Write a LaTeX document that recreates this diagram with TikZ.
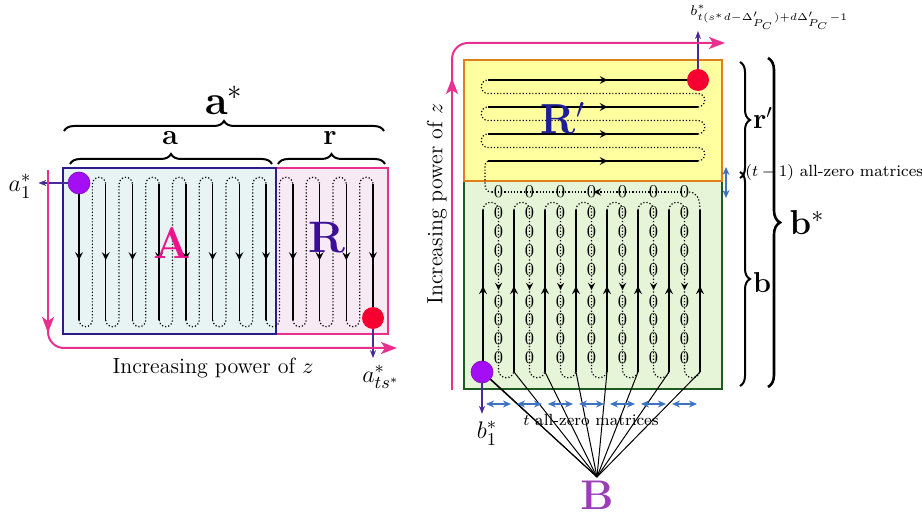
\documentclass[tikz,border=0pt]{standalone}
\usepackage{amsmath,amssymb}
\usepackage{tikz}
\usetikzlibrary{arrows,arrows.meta,positioning,calc,decorations.pathreplacing,decorations.markings}
\definecolor{tikzpink}{RGB}{232, 48, 143}
\definecolor{tikzmagenta}{RGB}{236, 18, 140}
\definecolor{tikzindigo}{RGB}{46, 26, 138}
\definecolor{tikzviolet}{RGB}{58, 14, 150}
\definecolor{tikznavy}{RGB}{30, 30, 150}
\definecolor{tikzpurple}{RGB}{163, 14, 245}
\definecolor{tikzplum}{RGB}{155, 61, 184}
\definecolor{tikzred}{RGB}{245, 0, 48}
\definecolor{tikzorange}{RGB}{224, 128, 28}
\definecolor{tikzgreen}{RGB}{31, 90, 32}
\definecolor{tikzblue}{RGB}{60, 116, 194}
\definecolor{tikzlabel}{RGB}{74, 42, 154}
\definecolor{afill}{RGB}{232, 244, 244}
\definecolor{rfill}{RGB}{247, 234, 244}
\definecolor{yfill}{RGB}{255, 255, 160}
\definecolor{gfill}{RGB}{230, 244, 216}

\begin{document}
\begin{tikzpicture}[
        x=0.5pt, y=-0.5pt,
        blockA/.style={draw=tikzindigo, fill=afill, line width=1pt},
        blockR/.style={draw=tikzpink, fill=rfill, line width=1pt},
        blockY/.style={draw=tikzorange, fill=yfill, line width=1.2pt},
        blockG/.style={draw=tikzgreen, fill=gfill, line width=1pt},
        ball/.style={circle, inner sep=0pt, minimum size=11pt},
        solidpath/.style={line width=0.75pt},
        dotpath/.style={densely dotted, line width=0.6pt},
        midarr/.style={postaction={decorate}, decoration={markings, mark=at position #1 with {\arrow{stealth}}}},
        midarr/.default=0.5,
        axis/.style={draw=tikzpink, line width=1pt, -{Stealth[length=8pt, width=6pt, inset=2pt]}},
        lblarr/.style={draw=tikzlabel, line width=0.6pt, -{Stealth[length=4pt, width=3pt]}},
        gap/.style={draw=tikzblue, line width=0.7pt, {Stealth[length=4pt, width=3.5pt]}-{Stealth[length=4pt, width=3.5pt]}},
        brace/.style={decorate, decoration={brace, amplitude=#1}, line width=1pt},
        zero/.style={inner sep=0pt, font=\fontsize{9}{10}\selectfont},
        big/.style={font=\fontsize{22}{26}\selectfont\bfseries},
        star/.style={font=\fontsize{13}{15}\selectfont},
        small/.style={font=\fontsize{8.1}{10}\selectfont}
    ]
        \useasboundingbox (0,0) rectangle (922,518);

        % Left: a* split into A and R
        \filldraw[blockR] (276,168) rectangle (388,334);
        \filldraw[blockA] (63,168) rectangle (276,334);

        \foreach \i in {0,...,11}
            \draw[solidpath, midarr=0.56] (79+\i*26.73,184) -- (79+\i*26.73,320);
        \foreach \i in {0,...,10}
            \draw[dotpath] (79+\i*26.73,320) arc[start angle=180, end angle=0, radius=6.68]
                -- ++(0,-136) arc[start angle=180, end angle=360, radius=6.68];

        \node[big, text=tikzmagenta] (labA) at (172,243) {A};
        \node[big, text=tikzviolet] (labR) at (327,238) {R};

        \node[ball, fill=tikzpurple, draw=tikzpurple!75!black, line width=0.3pt] (a1) at (79,183) {};
        \node[ball, fill=tikzred] (ats) at (373,318) {};
        \node[star] (a1lbl) at (20,186) {$a_1^*$};
        \node[star] (atslbl) at (381,377) {$a_{ts^*}^*$};
        \draw[lblarr] (a1) -- (a1 -| a1lbl.east);
        \draw[lblarr] (ats) -- (ats |- atslbl.north);

        % Braces
        \draw[brace=5pt] (64,131) -- (384,131);
        \draw[brace=5pt] (70,164) -- (272,164);
        \draw[brace=5pt] (278,164) -- (385,164);
        \node[font=\huge] (astar) at (224,100) {$\mathbf{a}^*$};
        \node[font=\Large] (alab) at (170,138) {$\mathbf{a}$};
        \node[font=\Large] (rlab) at (330,138) {$\mathbf{r}$};

        % Axis
        \draw[axis] (48,170) -- (48,333);
        \draw[axis, rounded corners=8pt] (48,330) |- (397,348);
        \node[font=\fontsize{11}{13}\selectfont] (incL) at (213,368) {Increasing power of $z$};

        % Right: b* split into R' and b
        \filldraw[blockG] (464,181) rectangle (722,389);
        \filldraw[blockY] (464,60) rectangle (722,181);

        \foreach \k in {0,...,3}
            \draw[solidpath, midarr=0.57] (488,80+\k*27) -- (698,80+\k*27);
        \foreach \k in {1,...,3}
            \draw[dotpath] (698,80+\k*27) arc[start angle=90, end angle=-90, radius=6.75]
                -- ++(-210,0) arc[start angle=90, end angle=270, radius=6.75];
        \node[big, text=tikznavy, font=\fontsize{21}{25}\selectfont\bfseries] (labRp) at (563,118) {R$'$};

        % zero row
        \draw[dotpath] (700,210) .. controls (700,197) and (696,192) .. (688,192);
        \draw[dotpath, midarr=0.48] (688,192) -- (492,192);
        \draw[dotpath] (492,192) .. controls (487,192) and (485,190) .. (485,184)
            -- (485,168) .. controls (485,163) and (486,161) .. (488,161);
        \foreach \j in {0,...,6}
            \node[zero] (zr\j) at (498.5+\j*31,192) {0};

        % columns
        \coordinate (b1c) at (482,372);
        \foreach \j in {0,...,7}
            \draw[solidpath, midarr=0.53] (483+\j*31,372) -- (483+\j*31,210);
        \foreach \j in {0,...,6} {
            \draw[dotpath, midarr=0.5] (483+\j*31,210) arc[start angle=180, end angle=360, radius=7.75]
                -- ++(0,160) arc[start angle=180, end angle=0, radius=7.75];
            \foreach \k [count=\n] in {213,232,251,270,302,320,339,358}
                \node[zero] (z\j-\n) at (498.5+\j*31,\k) {0};
        }

        % B
        \node[text=tikzplum, font=\fontsize{21}{25}\selectfont, anchor=north, inner sep=1pt] (B) at (597,479) {$\mathbf{B}$};
        \node[small] (tzero) at (591,420) {$t$ all-zero matrices};
        \coordinate (Bhub) at (597,477);
        \draw[line width=0.5pt] (b1c) -- (Bhub);
        \foreach \j in {0,...,7}
            \draw[line width=0.5pt] (483+\j*31,372) -- (Bhub);

        \foreach \j in {0,...,6}
            \draw[gap] (486+\j*31,404) -- (511+\j*31,404);
        \draw[gap] (726,167) -- (726,198);
        \node[small, anchor=west, inner sep=0pt] (tgap) at (745,173) {$(t-1)$ all-zero matrices};

        \node[ball, fill=tikzpurple, draw=tikzpurple!75!black, line width=0.3pt] (b1) at (b1c) {};
        \node[ball, fill=tikzred] (bend) at (698,80) {};
        \node[star] (b1lbl) at (487,433) {$b_1^*$};
        \node[font=\fontsize{6.7}{8}\selectfont, anchor=south west, inner sep=0.5pt] (btop) at (689,31) {$b^*_{t(s^*d-\Delta'_{P_C})+d\Delta'_{P_C}-1}$};
        \draw[lblarr] (b1) -- (b1 |- b1lbl.north);
        \draw[lblarr] (bend) -- (bend |- btop.south);

        % Axis
        \draw[axis] (452,390) -- (452,78);
        \draw[axis, rounded corners=8pt] (452,82) |- (725,43);
        \node[rotate=90, font=\fontsize{11}{13}\selectfont] (incR) at (437,204) {Increasing power of $z$};

        % Braces
        \draw[brace=5pt] (740,62) -- (740,178);
        \draw[brace=5pt] (740,172) -- (740,386);
        \draw[brace=6pt, line width=1.3pt] (768,58) -- (768,387);
        \node[font=\Large] (rplab) at (763,118) {$\mathbf{r}'$};
        \node[font=\Large] (blab) at (762,283) {$\mathbf{b}$};
        \node[font=\fontsize{18}{22}\selectfont] (bstar) at (807,223) {$\mathbf{b}^*$};
    \end{tikzpicture}
\end{document}
